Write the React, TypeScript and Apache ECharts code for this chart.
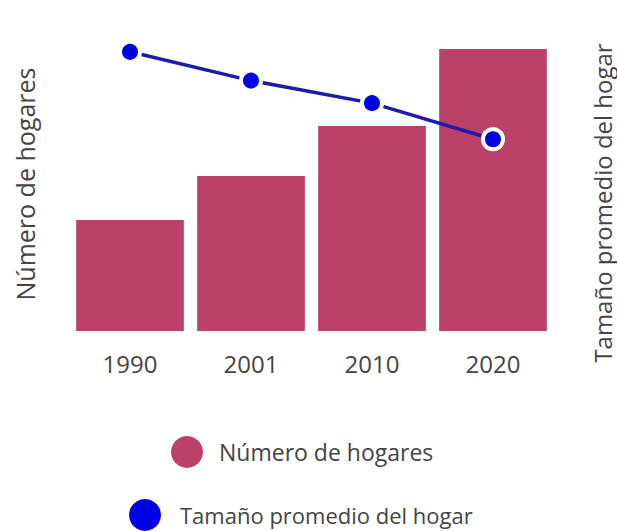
import React, { useEffect, useRef } from "react";
import * as echarts from "echarts";

const years = ["1990", "2001", "2010", "2020"];
const hogares = [394, 550, 727, 1000];
const tamano = [4.95, 4.44, 4.04, 3.4];
const nameBars = "Número de hogares";
const nameLine = "Tamaño promedio del hogar";

const FONT = "Open Sans";
const TXT = "#444";

export default function App() {
  const ref = useRef<HTMLDivElement>(null);
  useEffect(() => {
    const chart = echarts.init(ref.current!, null, { renderer: "svg" });
    chart.setOption({
      animation: false,
      backgroundColor: "#ffffff",
      textStyle: { fontFamily: FONT },
      grid: { left: 69.5, right: 63.5, top: 49, bottom: 200 },
      xAxis: {
        type: "category",
        data: years,
        axisLine: { show: false },
        axisTick: { show: false },
        axisLabel: { color: TXT, fontSize: 24, margin: 20, fontFamily: FONT },
      },
      yAxis: [
        {
          type: "value",
          min: 0,
          max: 1000,
          axisLabel: { show: false },
          axisLine: { show: false },
          axisTick: { show: false },
          splitLine: { show: false },
        },
        {
          type: "value",
          min: 0,
          max: 5,
          axisLabel: { show: false },
          axisLine: { show: false },
          axisTick: { show: false },
          splitLine: { show: false },
        },
      ],
      legend: [
        {
          data: [{ name: nameBars, icon: "circle", itemStyle: { borderWidth: 0 } }],
          left: 166,
          top: 431,
          itemWidth: 32,
          itemHeight: 32,
          textStyle: { color: TXT, fontSize: 23, fontFamily: FONT, padding: [0, 0, 0, 11] },
        },
        {
          data: [{ name: nameLine, icon: "circle", itemStyle: { color: "#0000e6", borderWidth: 0 } }],
          left: 124,
          top: 494,
          itemWidth: 32,
          itemHeight: 32,
          textStyle: { color: TXT, fontSize: 22, fontFamily: FONT, padding: [0, 0, 0, 14] },
        },
      ],
      graphic: [
        {
          type: "text",
          x: 25,
          y: 184,
          rotation: Math.PI / 2,
          style: {
            text: nameBars,
            fill: TXT,
            font: `25px "${FONT}"`,
            align: "center",
            verticalAlign: "middle",
          },
        },
        {
          type: "text",
          x: 602,
          y: 203,
          rotation: Math.PI / 2,
          style: {
            text: nameLine,
            fill: TXT,
            font: `24px "${FONT}"`,
            align: "center",
            verticalAlign: "middle",
          },
        },
      ],
      series: [
        {
          name: nameBars,
          type: "bar",
          data: hogares,
          barCategoryGap: "11%",
          itemStyle: { color: "#bc4169" },
        },
        {
          name: nameLine,
          type: "line",
          yAxisIndex: 1,
          data: tamano,
          symbol: "circle",
          symbolSize: 20,
          lineStyle: { color: "#1c1cac", width: 3.5 },
          itemStyle: { color: "#0000e6", borderColor: "#ffffff", borderWidth: 4 },
          z: 5,
        },
      ],
    });
    return () => chart.dispose();
  }, []);
  return (
    <div
      ref={ref}
      style={{ position: "absolute", left: 0, top: 0, width: 617, height: 531 }}
    />
  );
}
